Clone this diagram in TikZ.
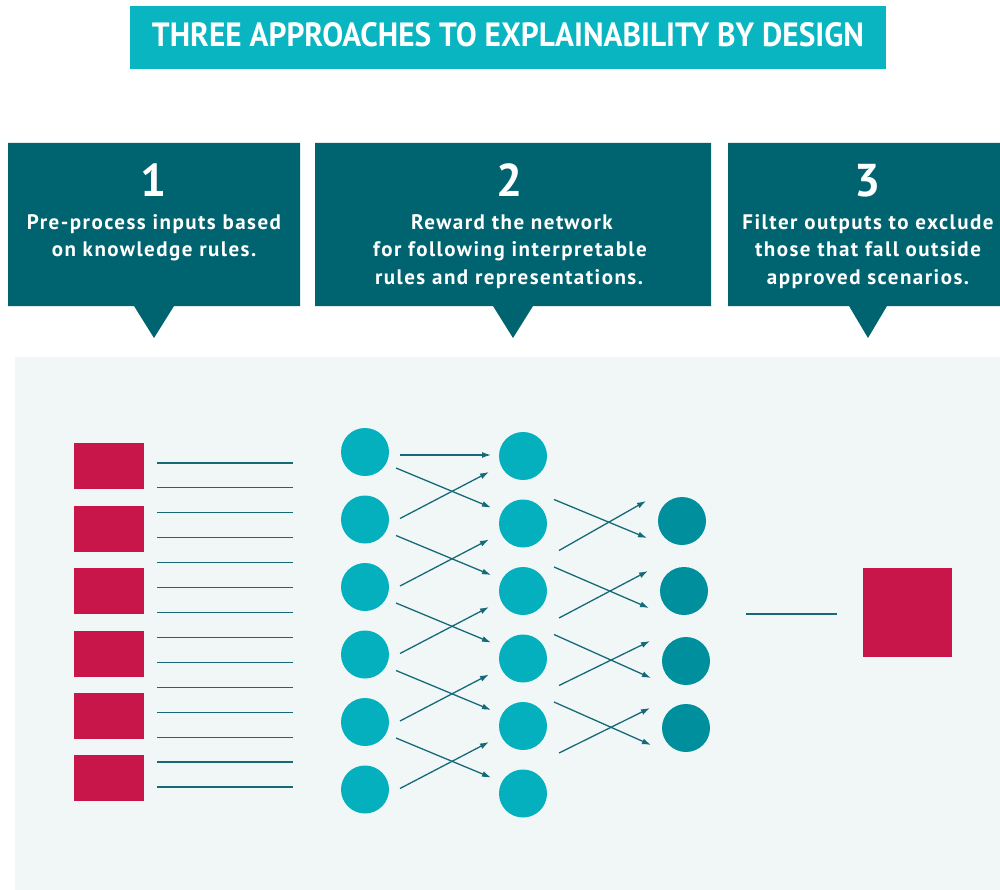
\documentclass[tikz,border=0pt]{standalone}
\usepackage{fontspec}
\setmainfont{PT Sans}
\newfontfamily\boxfont[LetterSpace=7]{PT Sans}
\usetikzlibrary{arrows.meta,calc}
\definecolor{titleteal}{RGB}{8,181,192}
\definecolor{boxteal}{RGB}{0,100,112}
\definecolor{panel}{RGB}{241,247,247}
\definecolor{circA}{RGB}{4,176,189}
\definecolor{circB}{RGB}{0,143,156}
\definecolor{redbox}{RGB}{200,22,74}
\definecolor{linec}{RGB}{22,106,120}
\begin{document}
\begin{tikzpicture}[x=1pt,y=-1pt,
  callout/.style={fill=boxteal},
  numlbl/.style={text=white,font=\bfseries\fontsize{46}{46}\selectfont,anchor=base,inner sep=0},
  lbl/.style={text=white,font=\boxfont\bfseries\fontsize{21}{24}\selectfont,anchor=base,inner sep=0},
  nodeA/.style={circle,fill=circA,minimum size=48pt,inner sep=0},
  nodeB/.style={circle,fill=circB,minimum size=48pt,inner sep=0},
  inbox/.style={fill=redbox,minimum width=70pt,minimum height=46pt,inner sep=0},
  thinline/.style={draw=linec,line width=1.1pt},
  arr/.style={draw=linec,line width=1.3pt,-{Latex[length=9pt,width=6pt]}}]
\useasboundingbox (0,0) rectangle (1000,890);
% title
\fill[titleteal] (130,6) rectangle (886,69);
\node[anchor=base,inner sep=0,text=white] (title) at (508,47)
  {\resizebox{712pt}{24pt}{\bfseries THREE APPROACHES TO EXPLAINABILITY BY DESIGN}};
% callouts
\fill[callout] (8,143) -- (300,143) -- (300,306) -- (174,306) -- (154,338) -- (134,306) -- (8,306) -- cycle;
\fill[callout] (315,143) -- (711,143) -- (711,306) -- (533,306) -- (513,338) -- (493,306) -- (315,306) -- cycle;
\fill[callout] (728,143) -- (1000,143) -- (1000,306) -- (887,306) -- (868,338) -- (849,306) -- (728,306) -- cycle;
\node[numlbl] (n1) at (154,197) {1};
\node[lbl] (t1a) at (154,230) {Pre-process inputs based};
\node[lbl] (t1b) at (154,257) {on knowledge rules.};
\node[numlbl] (n2) at (510,197) {2};
\node[lbl] (t2a) at (512,230) {Reward the network};
\node[lbl] (t2b) at (510,257) {for following interpretable};
\node[lbl] (t2c) at (509,284) {rules and representations.};
\node[numlbl] (n3) at (868,197) {3};
\node[lbl] (t3a) at (868,230) {Filter outputs to exclude};
\node[lbl] (t3b) at (868,257) {those that fall outside};
\node[lbl] (t3c) at (868,284) {approved scenarios.};
% panel
\fill[panel] (15,357) rectangle (1000,890);
% input boxes
\foreach \i/\y in {1/466,2/529,3/591,4/654,5/716,6/778}
  \node[inbox] (in\i) at (109,\y) {};
\foreach \k in {0,...,13}
  \draw[thinline] (157,463+24.92*\k) -- (293,463+24.92*\k);
% layer 1
\foreach \i/\y in {1/452,2/519.5,3/587,4/654.5,5/722,6/789.5}
  \node[nodeA] (a\i) at (365,\y) {};
% layer 2
\foreach \i/\y in {1/456,2/523.5,3/591,4/658.5,5/726,6/793.5}
  \node[nodeA] (b\i) at (523,\y) {};
% layer 3
\node[nodeB] (c1) at (682,521) {};
\node[nodeB] (c2) at (684,591) {};
\node[nodeB] (c3) at (686,661) {};
\node[nodeB] (c4) at (686,728) {};
% arrows layer 1 -> 2
\draw[arr] ($(a1)+(35,3)$) -- ($(b1)+(-32,-1)$);
\foreach \i in {1,...,5}{
  \pgfmathtruncatemacro{\j}{\i+1}
  \draw[arr] ($(a\i)+(31,16)$) -- ($(b\j)+(-32,-16)$);
  \draw[arr] ($(a\j)+(35,-1)$) -- ($(b\i)+(-34,16)$);
}
% arrows layer 2 -> 3
\foreach \j in {1,...,4}{
  \pgfmathtruncatemacro{\k}{\j+1}
  \draw[arr] ($(b\k)+(31,-24)$) -- ($(c\j)+(-35,17)$);
  \draw[arr] ($(b\k)+(36,27)$) -- ($(c\j)+(-36,-20)$);
}
% output
\node[fill=redbox,minimum width=89pt,minimum height=89pt,inner sep=0] (out) at (907.5,612.5) {};
\coordinate (ostart) at (746,614);
\draw[thinline] (ostart) -- ($(out.west)+(-26,1.5)$);
\end{tikzpicture}
\end{document}
